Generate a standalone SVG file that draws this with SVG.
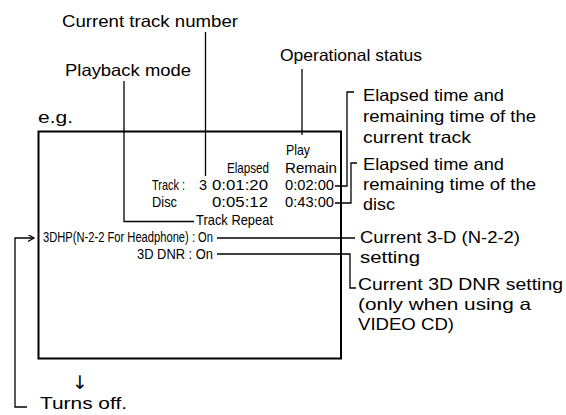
<svg xmlns="http://www.w3.org/2000/svg" width="566" height="415" viewBox="0 0 566 415">
<style>
.lbl{font-family:"Liberation Sans",Arial,sans-serif;font-size:16.5px;fill:#000}
.scr{font-family:"Liberation Sans",Arial,sans-serif;font-size:15px;fill:#000}
.ln{fill:none;stroke:#000;stroke-width:1.3}
.box{fill:#fff;stroke:#000;stroke-width:2}
</style>
<defs>
<marker id="arr" markerWidth="8" markerHeight="8" refX="6" refY="3.5" orient="auto" markerUnits="userSpaceOnUse">
<path d="M0,0 L6,3.5 L0,7" fill="none" stroke="#000" stroke-width="1.2"/>
</marker>
</defs>
<rect width="566" height="415" fill="#fff"/>
<g id="screen">
<rect class="box" x="38.5" y="131.5" width="302.5" height="227"/>
<text class="lbl" x="38" y="123" textLength="35" lengthAdjust="spacingAndGlyphs">e.g.</text>
<text class="scr" x="286" y="155" textLength="24" lengthAdjust="spacingAndGlyphs">Play</text>
<text class="scr" x="227" y="173" textLength="42" lengthAdjust="spacingAndGlyphs">Elapsed</text>
<text class="scr" x="285" y="173" textLength="52" lengthAdjust="spacingAndGlyphs">Remain</text>
<text class="scr" x="152" y="190" textLength="33" lengthAdjust="spacingAndGlyphs">Track :</text>
<text class="scr" x="199" y="190" textLength="8" lengthAdjust="spacingAndGlyphs">3</text>
<text class="scr" x="212" y="190" textLength="56" lengthAdjust="spacingAndGlyphs">0:01:20</text>
<text class="scr" x="285" y="190" textLength="49" lengthAdjust="spacingAndGlyphs">0:02:00</text>
<text class="scr" x="152" y="207" textLength="25" lengthAdjust="spacingAndGlyphs">Disc</text>
<text class="scr" x="212" y="207" textLength="56" lengthAdjust="spacingAndGlyphs">0:05:12</text>
<text class="scr" x="285" y="207" textLength="49" lengthAdjust="spacingAndGlyphs">0:43:00</text>
<text class="scr" x="196" y="225" textLength="77" lengthAdjust="spacingAndGlyphs">Track Repeat</text>
<text class="scr" x="43" y="242" textLength="170" lengthAdjust="spacingAndGlyphs">3DHP(N-2-2 For Headphone) : On</text>
<text class="scr" x="137" y="259" textLength="76" lengthAdjust="spacingAndGlyphs">3D DNR : On</text>
</g>
<g id="label-track-number">
<text class="lbl" x="62" y="27" textLength="176" lengthAdjust="spacingAndGlyphs">Current track number</text>
</g>
<g id="label-playback-mode">
<text class="lbl" x="65" y="76" textLength="126" lengthAdjust="spacingAndGlyphs">Playback mode</text>
</g>
<g id="label-operational-status">
<text class="lbl" x="280" y="61" textLength="142" lengthAdjust="spacingAndGlyphs">Operational status</text>
</g>
<g id="label-track-time">
<text class="lbl" x="363" y="101" textLength="141" lengthAdjust="spacingAndGlyphs">Elapsed time and</text>
<text class="lbl" x="363" y="122" textLength="173" lengthAdjust="spacingAndGlyphs">remaining time of the</text>
<text class="lbl" x="363" y="143" textLength="108" lengthAdjust="spacingAndGlyphs">current track</text>
</g>
<g id="label-disc-time">
<text class="lbl" x="363" y="170" textLength="141" lengthAdjust="spacingAndGlyphs">Elapsed time and</text>
<text class="lbl" x="363" y="190" textLength="173" lengthAdjust="spacingAndGlyphs">remaining time of the</text>
<text class="lbl" x="363" y="210" textLength="32" lengthAdjust="spacingAndGlyphs">disc</text>
</g>
<g id="label-3d">
<text class="lbl" x="360" y="243" textLength="160" lengthAdjust="spacingAndGlyphs">Current 3-D (N-2-2)</text>
<text class="lbl" x="360" y="263" textLength="60" lengthAdjust="spacingAndGlyphs">setting</text>
</g>
<g id="label-dnr">
<text class="lbl" x="358" y="290" textLength="205" lengthAdjust="spacingAndGlyphs">Current 3D DNR setting</text>
<text class="lbl" x="358" y="310" textLength="173" lengthAdjust="spacingAndGlyphs">(only when using a</text>
<text class="lbl" x="358" y="330" textLength="96" lengthAdjust="spacingAndGlyphs">VIDEO CD)</text>
</g>
<g id="turns-off">
<text x="80" y="389" text-anchor="middle" font-family="DejaVu Sans,sans-serif" font-size="19">↓</text>
<text class="lbl" x="40" y="409" textLength="87" lengthAdjust="spacingAndGlyphs">Turns off.</text>
</g>
<g id="connectors">
<path class="ln" d="M205.5 32 V176"/>
<path class="ln" d="M124 81 V221.5 H194"/>
<path class="ln" d="M302 69 V135"/>
<path class="ln" d="M335 186 H347 V92 H354"/>
<path class="ln" d="M335 203 H351 V163 H357"/>
<path class="ln" d="M217 238 H355"/>
<path class="ln" d="M217 254 H350 V288 H356"/>
<path class="ln" d="M27 407 H15 V238 H34" marker-end="url(#arr)"/>
</g>
</svg>
